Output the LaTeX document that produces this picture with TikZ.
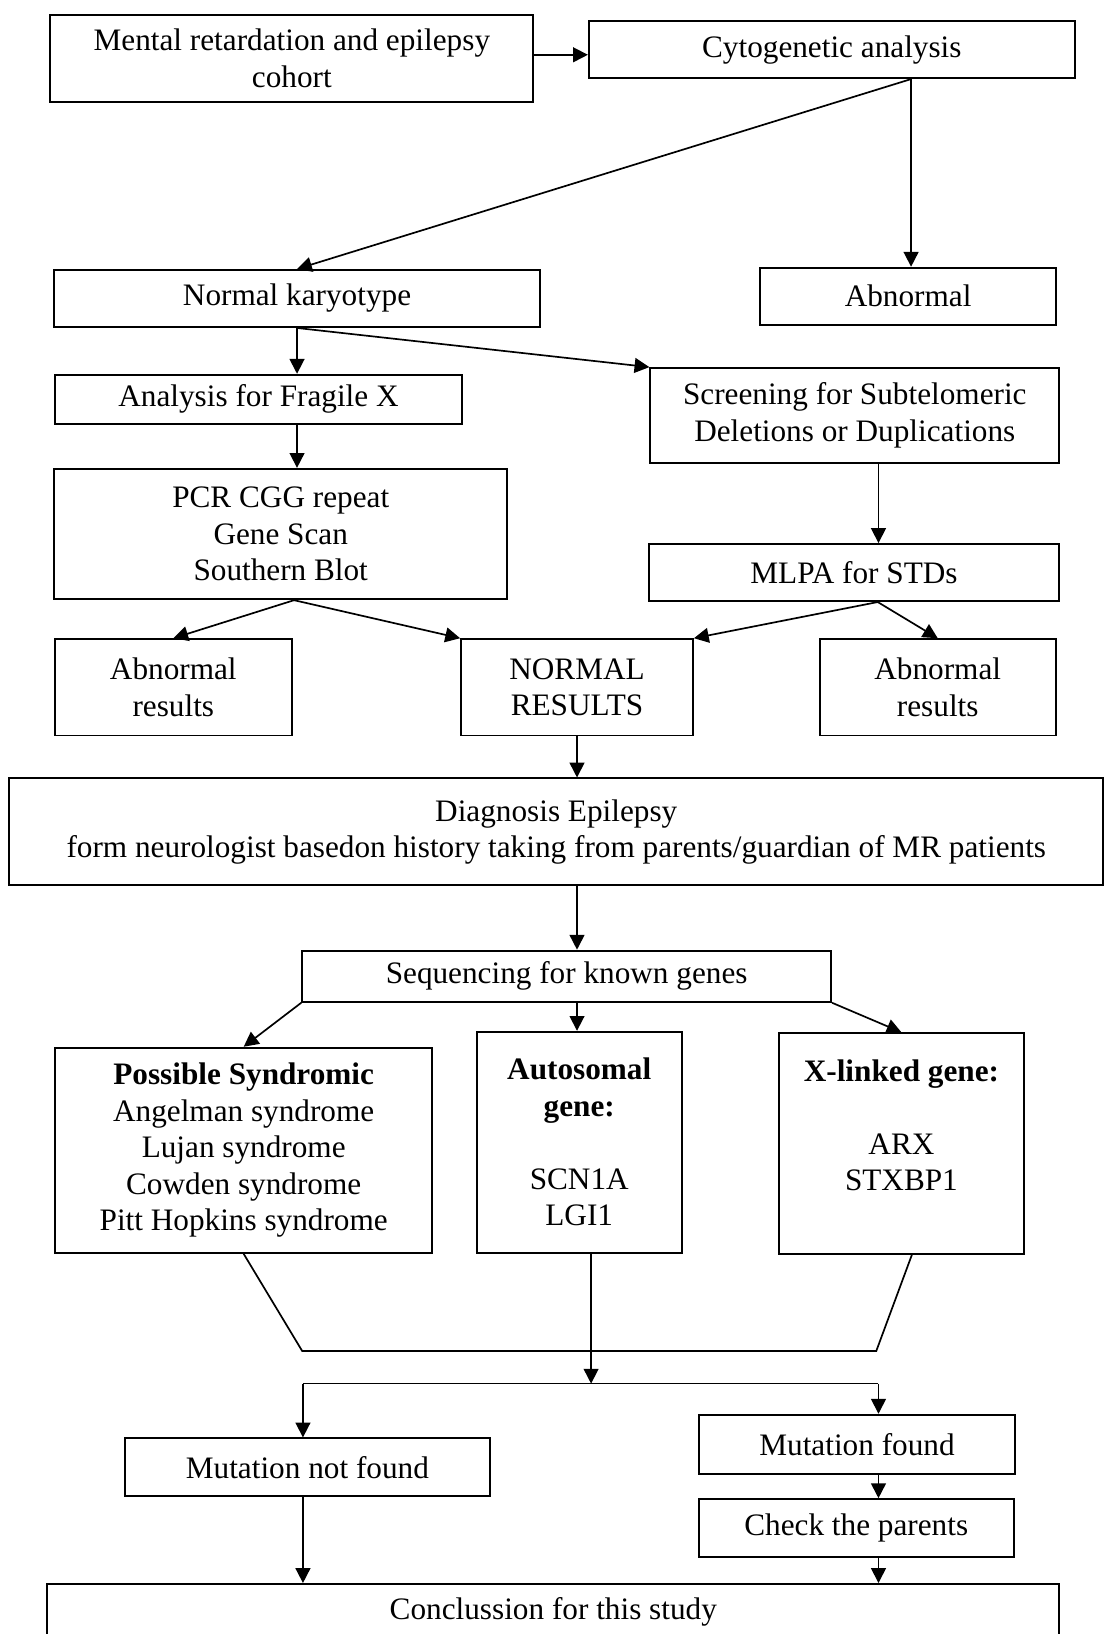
\documentclass[tikz,border=0pt]{standalone}
\usepackage{fontspec}
\setmainfont{Liberation Serif}
\usetikzlibrary{arrows.meta}

\begin{document}
\begin{tikzpicture}[
  font=\fontsize{12}{14}\selectfont,
  bx/.style={draw=black, line width=0.75pt, align=center, inner sep=0pt},
  ar/.style={line width=0.65pt, -{Triangle[length=2.0mm, width=2.0mm]}},
  ln/.style={line width=0.65pt}
]
\useasboundingbox (0,0) rectangle (14.97, 22.06);

% ================= TOP: cohort and cytogenetics =================
\node[bx, minimum width=6.52cm, minimum height=1.17cm] (cohort) at (3.94, 21.27)
  {Mental retardation and epilepsy\\ cohort};
\node[bx, minimum width=6.56cm, minimum height=0.77cm] (cyto) at (11.23, 21.39)
  {Cytogenetic analysis};
\node[bx, minimum width=6.56cm, minimum height=0.77cm] (karyo) at (4.01, 18.03)
  {Normal karyotype};
\node[bx, minimum width=4.00cm, minimum height=0.77cm] (abn) at (12.26, 18.06)
  {Abnormal};

\draw[ar] ([yshift=0.05cm]cohort.east) -- ([yshift=0.05cm]cohort.east -| cyto.west);
\draw[ar] ([xshift=1.07cm]cyto.south) -- (karyo.north);
\draw[ar] ([xshift=1.07cm]cyto.south) -- ([xshift=1.07cm]cyto.south |- abn.north);

% ================= MIDDLE: Fragile X and subtelomeric =================
\node[bx, minimum width=5.49cm, minimum height=0.66cm] (fragx) at (3.49, 16.67)
  {Analysis for Fragile X};
\node[bx, minimum width=5.52cm, minimum height=1.28cm] (screen) at (11.54, 16.45)
  {Screening for Subtelomeric\\ Deletions or Duplications};
\node[bx, minimum width=6.12cm, minimum height=1.76cm] (pcr) at (3.79, 14.85)
  {PCR CGG repeat\\ Gene Scan\\ Southern Blot};
\node[bx, minimum width=5.54cm, minimum height=0.77cm] (mlpa) at (11.53, 14.33)
  {MLPA for STDs};

\draw[ar] (karyo.south) -- (karyo.south |- fragx.north);
\draw[ar] (karyo.south) -- (screen.north west);
\draw[ar] (karyo.south |- fragx.south) -- (karyo.south |- pcr.north);
\draw[ar] ([xshift=0.32cm]screen.south) -- ([xshift=0.32cm]screen.south |- mlpa.north);

% --- results ---
\node[bx, minimum width=3.20cm, minimum height=1.30cm] (abnL) at (2.34, 12.78)
  {Abnormal\\ results};
\node[bx, minimum width=3.13cm, minimum height=1.30cm] (normal) at (7.79, 12.78)
  {NORMAL\\ RESULTS};
\node[bx, minimum width=3.19cm, minimum height=1.30cm] (abnR) at (12.66, 12.78)
  {Abnormal\\ results};

\draw[ar] ([xshift=0.18cm]pcr.south) -- (abnL.north);
\draw[ar] ([xshift=0.18cm]pcr.south) -- (normal.north west);
\draw[ar] ([xshift=0.32cm]mlpa.south) -- (normal.north east);
\draw[ar] ([xshift=0.32cm]mlpa.south) -- (abnR.north);

% ================= diagnosis and sequencing =================
\node[bx, minimum width=14.77cm, minimum height=1.44cm] (diag) at (7.51, 10.83)
  {Diagnosis Epilepsy\\ form neurologist basedon history taking from parents/guardian of MR patients};
\node[bx, minimum width=7.14cm, minimum height=0.69cm] (seq) at (7.65, 8.88)
  {Sequencing for known genes};

\draw[ar] (normal.south) -- (normal.south |- diag.north);
\draw[ar] (normal.south |- diag.south) -- (normal.south |- seq.north);

% --- gene groups ---
\node[bx, minimum width=5.09cm, minimum height=2.77cm] (synd) at (3.29, 6.53)
  {\textbf{Possible Syndromic}\\ Angelman syndrome\\ Lujan syndrome\\
   Cowden syndrome\\ Pitt Hopkins syndrome};
\node[bx, minimum width=2.77cm, minimum height=2.98cm] (auto) at (7.82, 6.64)
  {\textbf{Autosomal}\\ \textbf{gene:}\\ \mbox{}\\ SCN1A\\ LGI1};
\node[bx, minimum width=3.31cm, minimum height=2.98cm] (xlink) at (12.17, 6.62)
  {\textbf{X-linked gene:}\\ \mbox{}\\ ARX\\ STXBP1\\ \mbox{}};

\draw[ar] (seq.south west) -- (synd.north);
\draw[ar] (normal.south |- seq.south) -- (normal.south |- auto.north);
\draw[ar] (seq.south east) -- (xlink.north);

% ================= BOTTOM: outcome =================
\coordinate (fl) at (4.08, 3.82);
\coordinate (fr) at (11.83, 3.82);
\coordinate (sl) at (4.09, 3.38);
\coordinate (sr) at (11.86, 3.38);

\draw[ln] (synd.south) -- (fl) -- (fr) -- ([xshift=0.14cm]xlink.south);
\draw[ar] ([xshift=0.16cm]auto.south) -- ([xshift=0.16cm]auto.south |- sl);
\draw[ln] (sl) -- (sr);

\node[bx, minimum width=4.93cm, minimum height=0.78cm] (notfound) at (4.15, 2.25)
  {Mutation not found};
\node[bx, minimum width=4.27cm, minimum height=0.80cm] (found) at (11.57, 2.56)
  {Mutation found};
\node[bx, minimum width=4.25cm, minimum height=0.78cm] (check) at (11.56, 1.43)
  {Check the parents};
\node[bx, minimum width=13.66cm, minimum height=0.75cm] (concl) at (7.47, 0.30)
  {Conclussion for this study};

\draw[ar] (sl) -- (sl |- notfound.north);
\draw[ar] (sr) -- (sr |- found.north);
\draw[ar] (sr |- found.south) -- (sr |- check.north);
\draw[ar] (sr |- check.south) -- (sr |- concl.north);
\draw[ar] (sl |- notfound.south) -- (sl |- concl.north);

\end{tikzpicture}
\end{document}
